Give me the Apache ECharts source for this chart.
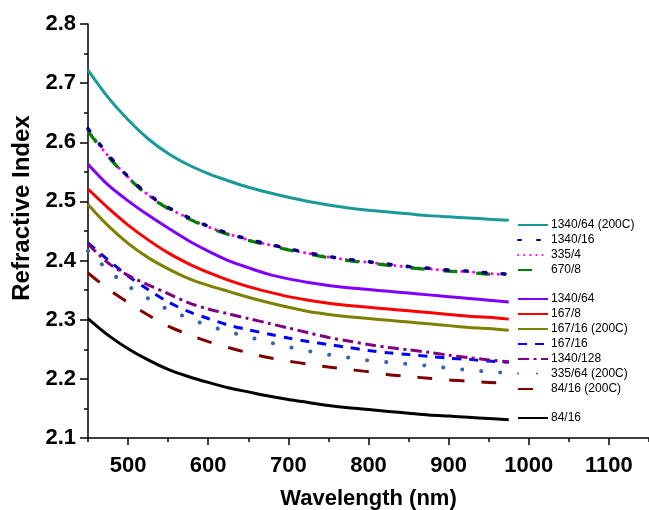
<!DOCTYPE html>
<html><head><meta charset="utf-8">
<script src="https://cdn.jsdelivr.net/npm/echarts@6/dist/echarts.min.js"></script>
<style>html,body{margin:0;padding:0;background:#fff}#c{width:649px;height:510px}</style>
</head><body><div id="c"></div><script>
// ---- data ----
const wavelengths = [450, 475, 500, 525, 550, 575, 600, 625, 650, 675, 700, 725, 750, 775, 800, 825, 850, 875, 900, 925, 950, 975];
const n1340_64_200C = [2.722, 2.676, 2.638, 2.606, 2.581, 2.562, 2.547, 2.535, 2.524, 2.515, 2.507, 2.500, 2.494, 2.489, 2.485, 2.482, 2.479, 2.476, 2.474, 2.472, 2.470, 2.468];
const n1340_16      = [2.623, 2.579, 2.542, 2.512, 2.490, 2.473, 2.458, 2.446, 2.436, 2.428, 2.420, 2.413, 2.407, 2.402, 2.398, 2.394, 2.390, 2.387, 2.384, 2.382, 2.379, 2.377];
const n335_4        = [2.620, 2.577, 2.541, 2.511, 2.489, 2.472, 2.457, 2.445, 2.435, 2.427, 2.419, 2.412, 2.406, 2.401, 2.397, 2.393, 2.389, 2.386, 2.383, 2.381, 2.378, 2.376];
const n670_8        = [2.618, 2.576, 2.540, 2.510, 2.488, 2.471, 2.456, 2.444, 2.434, 2.426, 2.418, 2.411, 2.405, 2.400, 2.396, 2.392, 2.388, 2.385, 2.382, 2.380, 2.377, 2.375];
const n1340_64      = [2.563, 2.528, 2.501, 2.477, 2.455, 2.434, 2.416, 2.400, 2.388, 2.377, 2.369, 2.363, 2.358, 2.354, 2.351, 2.348, 2.345, 2.342, 2.339, 2.336, 2.333, 2.330];
const n167_8        = [2.521, 2.489, 2.460, 2.435, 2.413, 2.395, 2.380, 2.367, 2.356, 2.347, 2.339, 2.333, 2.328, 2.324, 2.321, 2.318, 2.315, 2.312, 2.309, 2.306, 2.304, 2.301];
const n167_16_200C  = [2.495, 2.459, 2.429, 2.405, 2.386, 2.370, 2.358, 2.348, 2.338, 2.329, 2.321, 2.314, 2.309, 2.305, 2.302, 2.299, 2.296, 2.293, 2.290, 2.287, 2.285, 2.282];
const n167_16       = [2.430, 2.401, 2.374, 2.351, 2.330, 2.314, 2.302, 2.291, 2.283, 2.276, 2.269, 2.263, 2.258, 2.253, 2.248, 2.244, 2.241, 2.238, 2.235, 2.233, 2.230, 2.228];
const n1340_128     = [2.428, 2.396, 2.375, 2.359, 2.344, 2.329, 2.318, 2.310, 2.302, 2.294, 2.286, 2.278, 2.270, 2.264, 2.258, 2.253, 2.249, 2.245, 2.240, 2.236, 2.232, 2.229];
const n335_64_200C  = [2.416, 2.384, 2.357, 2.336, 2.317, 2.303, 2.290, 2.280, 2.271, 2.262, 2.254, 2.247, 2.241, 2.236, 2.231, 2.228, 2.225, 2.222, 2.218, 2.215, 2.212, 2.210];
const n84_16_200C   = [2.379, 2.352, 2.329, 2.308, 2.289, 2.275, 2.263, 2.253, 2.244, 2.236, 2.230, 2.225, 2.220, 2.216, 2.212, 2.207, 2.204, 2.201, 2.198, 2.196, 2.194, 2.192];
const n84_16        = [2.302, 2.274, 2.251, 2.232, 2.216, 2.204, 2.194, 2.185, 2.178, 2.171, 2.165, 2.160, 2.155, 2.151, 2.148, 2.145, 2.142, 2.139, 2.137, 2.135, 2.133, 2.131];
const seriesNames = ['1340/64 (200C)', '1340/16', '335/4', '670/8', '1340/64', '167/8',
  '167/16 (200C)', '167/16', '1340/128', '335/64 (200C)', '84/16 (200C)', '84/16'];
const xTickLabels = [500, 600, 700, 800, 900, 1000, 1100];
const xMinorTicks = [450, 550, 650, 750, 850, 950, 1050, 1150];
const yTickLabels = [2.1, 2.2, 2.3, 2.4, 2.5, 2.6, 2.7, 2.8];

// ---- styles ----
const values = [n1340_64_200C, n1340_16, n335_4, n670_8, n1340_64, n167_8,
  n167_16_200C, n167_16, n1340_128, n335_64_200C, n84_16_200C, n84_16];
const styles = [
  {color: '#1a9999', type: 'solid', cap: 'butt', width: 3, z: 2},
  {color: '#000080', type: [3, 16], cap: 'round', width: 3.5, z: 6},
  {color: '#ff00ff', type: [0.1, 6], cap: 'round', width: 3, z: 4},
  {color: '#008000', type: [14, 19], cap: 'butt', width: 3.2, z: 5},
  {color: '#8000ff', type: 'solid', cap: 'butt', width: 3, z: 2},
  {color: '#ff0000', type: 'solid', cap: 'butt', width: 3, z: 2},
  {color: '#808000', type: 'solid', cap: 'butt', width: 3, z: 2},
  {color: '#0000ff', type: [9, 8], cap: 'butt', width: 3, z: 3},
  {color: '#800080', type: [11, 4.5, 3, 4.5], cap: 'butt', width: 3, z: 4},
  {color: '#3366aa', type: [0.1, 19], cap: 'round', width: 4, z: 3},
  {color: '#800000', type: [15, 17], cap: 'butt', width: 3, z: 3},
  {color: '#000000', type: 'solid', cap: 'butt', width: 3, z: 2}
];
const legendCenters = [226, 241, 256, 271, 300, 315, 330, 345, 360, 374.5, 390, 419];

const font = 'Liberation Sans, Arial, sans-serif';
const series = seriesNames.map((name, i) => ({
  name: name, type: 'line', symbol: 'none', showSymbol: false,
  smooth: 0.3, z: styles[i].z,
  data: wavelengths.map((w, k) => [w, values[i][k]]),
  itemStyle: {color: styles[i].color},
  lineStyle: {color: styles[i].color, width: styles[i].width, type: styles[i].type, cap: styles[i].cap}
}));
const legends = seriesNames.map((name, i) => ({
  data: [name], left: 517, top: legendCenters[i] - 7, orient: 'vertical',
  itemWidth: 30, itemHeight: 14, padding: 0, itemGap: 0, selectedMode: false,
  itemStyle: {opacity: 0},
  textStyle: {fontSize: 12, color: '#000', fontFamily: font, padding: [0, 0, 0, -2]}
}));

const chart = echarts.init(document.getElementById('c'), null, {renderer: 'canvas'});
chart.setOption({
  animation: false,
  backgroundColor: '#fff',
  grid: {left: 88, right: 0, top: 24, bottom: 72, containLabel: false, outerBoundsMode: 'none'},
  legend: legends,
  graphic: [{
    type: 'text', x: 22, y: 208, rotation: Math.PI / 2,
    style: {text: 'Refractive Index', x: 0, y: 0, align: 'center', verticalAlign: 'middle',
      fontSize: 24, fontWeight: 'bold', fontFamily: font, fill: '#000'}
  }],
  xAxis: [{
    type: 'value', min: 450, max: 1150, position: 'bottom',
    name: 'Wavelength (nm)', nameLocation: 'middle', nameGap: 50,
    nameTextStyle: {fontSize: 22, fontWeight: 'bold', color: '#000', fontFamily: font},
    axisLine: {show: true, lineStyle: {color: '#000', width: 1.5}},
    axisTick: {show: true, customValues: xTickLabels, length: 7, lineStyle: {color: '#000', width: 1.5}},
    axisLabel: {customValues: xTickLabels, fontSize: 22, fontWeight: 'bold', color: '#000', fontFamily: font, margin: 17,
      formatter: v => String(Math.round(v))},
    splitLine: {show: false}
  }, {
    type: 'value', min: 450, max: 1150, position: 'bottom',
    axisLine: {show: false},
    axisTick: {show: true, customValues: xMinorTicks, length: 4, lineStyle: {color: '#000', width: 1.5}},
    axisLabel: {show: false},
    splitLine: {show: false}
  }],
  yAxis: {
    type: 'value', min: 2.1, max: 2.8, interval: 0.1,
    axisLine: {show: true, lineStyle: {color: '#000', width: 1.5}},
    axisTick: {show: true, length: 8, lineStyle: {color: '#000', width: 1.5}},
    minorTick: {show: true, splitNumber: 2, length: 4, lineStyle: {color: '#000', width: 1.5}},
    axisLabel: {fontSize: 22, fontWeight: 'bold', color: '#000', fontFamily: font, margin: 12,
      formatter: v => yTickLabels.find(t => Math.abs(t - v) < 1e-6).toFixed(1)},
    splitLine: {show: false}
  },
  series: series
});
</script></body></html>
